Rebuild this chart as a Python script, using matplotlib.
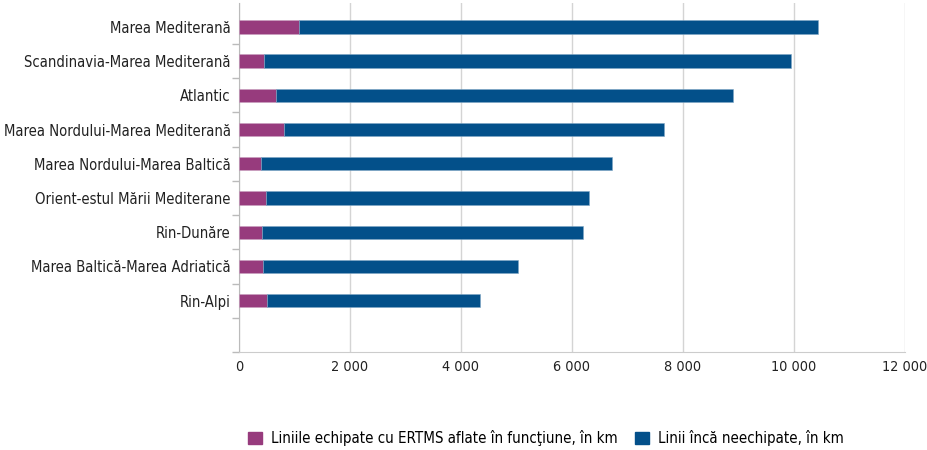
import matplotlib
matplotlib.use("Agg")
import matplotlib.pyplot as plt
from matplotlib import font_manager as fm
from matplotlib.ticker import FuncFormatter, MultipleLocator
from matplotlib.patches import Patch

categories = ["Marea Mediterană", "Scandinavia-Marea Mediterană", "Atlantic",
              "Marea Nordului-Marea Mediterană", "Marea Nordului-Marea Baltică",
              "Orient-estul Mării Mediterane", "Rin-Dunăre",
              "Marea Baltică-Marea Adriatică", "Rin-Alpi"]
ertms = [1080, 450, 670, 810, 400, 490, 415, 430, 505]
totals = [10440, 9950, 8900, 7660, 6720, 6310, 6200, 5030, 4345]
remaining = [t - e for t, e in zip(totals, ertms)]
legend_labels = ["Liniile echipate cu ERTMS aflate în funcţiune, în km",
                 "Linii încă neechipate, în km"]

names = {f.name for f in fm.fontManager.ttflist}
if "Liberation Sans Narrow" in names:
    fam = ["Liberation Sans Narrow", "DejaVu Sans"]
    stretch = "normal"
else:
    fam = ["DejaVu Sans"]
    stretch = "condensed"
plt.rcParams["font.family"] = fam
plt.rcParams["font.stretch"] = stretch

purple = "#973B7D"
blue = "#03508A"
fs = 10.8

fig = plt.figure(figsize=(9.28, 4.5), dpi=100)
ax = fig.add_axes([239/928, 98/450, (905-239)/928, (447-98)/450])

y = list(range(len(categories)))
ax.barh(y, ertms, height=0.39, color=purple, edgecolor="#c9a0c0", linewidth=0.4, zorder=3)
ax.barh(y, remaining, left=ertms, height=0.39, color=blue, edgecolor="#7fa6c4", linewidth=0.4, zorder=3)

ax.set_ylim(9.5, -0.7)
ax.set_xlim(0, 12000)
ax.set_yticks(y)
ax.set_yticklabels(categories, fontsize=10.6, color="#222222")
ax.tick_params(axis="y", length=0, pad=6)
ax.set_yticks([i + 0.5 for i in range(len(categories) + 1)], minor=True)
ax.tick_params(axis="y", which="minor", length=5, color="#bbbbbb", width=1)

ax.xaxis.set_major_locator(MultipleLocator(2000))
ax.xaxis.set_major_formatter(FuncFormatter(lambda v, p: f"{int(v):,}".replace(",", " ")))
ax.tick_params(axis="x", length=0, labelsize=10.4, labelcolor="#222222", pad=6)
ax.grid(axis="x", color="#d4d4d4", linewidth=1, zorder=0)

for s in ["top", "right"]:
    ax.spines[s].set_visible(False)
ax.spines["left"].set_color("#bbbbbb")
ax.spines["bottom"].set_color("#cccccc")

handles = [Patch(color=purple), Patch(color=blue)]
fig.legend(handles, legend_labels, loc="center", bbox_to_anchor=(546/928, 12/450),
           ncol=2, frameon=False, fontsize=fs, handlelength=0.9, handleheight=0.9,
           columnspacing=1.2, handletextpad=0.6)

fig.savefig("out.png", dpi=100)
